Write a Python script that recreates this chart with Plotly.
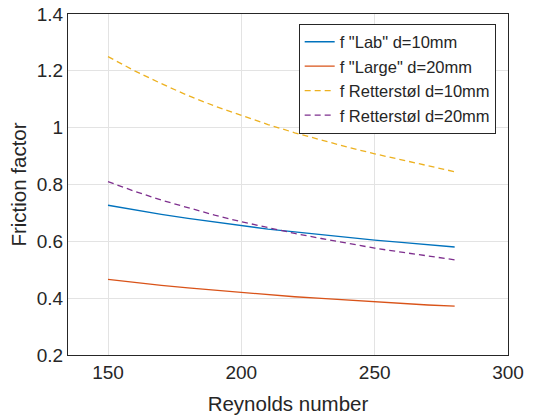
import plotly.graph_objects as go

# Reynolds numbers at which the friction factor was evaluated
reynolds = [150, 160, 170, 180, 190, 200, 210, 220, 230, 240, 250, 260, 270, 280]

# Friction factor series
f_lab_10 = [0.727, 0.710, 0.695, 0.681, 0.668, 0.655, 0.643, 0.633, 0.623, 0.613, 0.604, 0.596, 0.587, 0.580]
f_large_20 = [0.466, 0.455, 0.445, 0.436, 0.428, 0.420, 0.412, 0.405, 0.399, 0.393, 0.387, 0.382, 0.376, 0.372]
f_rett_10 = [1.250, 1.200, 1.155, 1.113, 1.076, 1.043, 1.011, 0.982, 0.956, 0.931, 0.908, 0.887, 0.866, 0.845]
f_rett_20 = [0.810, 0.776, 0.745, 0.718, 0.692, 0.669, 0.648, 0.628, 0.610, 0.592, 0.576, 0.562, 0.548, 0.535]

names = ['f "Lab" d=10mm', 'f "Large" d=20mm', 'f Retterstøl d=10mm', 'f Retterstøl d=20mm']
colors = ["#0072BD", "#D95319", "#EDB120", "#7E2F8E"]
dashes = ["solid", "solid", "6px,4px", "6px,4px"]
series = [f_lab_10, f_large_20, f_rett_10, f_rett_20]

fig = go.Figure()
for name, ys, c, d in zip(names, series, colors, dashes):
    fig.add_trace(go.Scatter(x=reynolds, y=ys, mode="lines", name=name,
                             line=dict(color=c, width=1.3, dash=d)))

text_color = "#262626"
fig.update_layout(
    width=533, height=415,
    margin=dict(l=68, r=25, t=14, b=60, autoexpand=False),
    paper_bgcolor="white", plot_bgcolor="white",
    font=dict(family="Liberation Sans, Arial, sans-serif", color=text_color, size=19),
    legend=dict(x=0.972, y=0.972, xanchor="right", yanchor="top",
                bgcolor="white", bordercolor=text_color, borderwidth=1,
                font=dict(size=16.5), tracegroupgap=0),
    showlegend=True,
)
fig.update_xaxes(range=[135, 300], tickvals=[150, 200, 250, 300],
                 showgrid=True, gridcolor="#e3e3e3", gridwidth=1,
                 showline=True, linecolor=text_color, linewidth=1, mirror=True,
                 ticks="", zeroline=False, tickfont=dict(size=19),
                 title=dict(text="Reynolds number", font=dict(size=20.5), standoff=16))
fig.update_yaxes(range=[0.2, 1.4], tickvals=[0.2, 0.4, 0.6, 0.8, 1.0, 1.2, 1.4],
                 ticktext=["0.2", "0.4", "0.6", "0.8", "1", "1.2", "1.4"],
                 showgrid=True, gridcolor="#e3e3e3", gridwidth=1,
                 showline=True, linecolor=text_color, linewidth=1, mirror=True,
                 ticks="", zeroline=False, tickfont=dict(size=19),
                 title=dict(text="Friction factor", font=dict(size=20.5), standoff=4))

fig.write_html("out.html")
